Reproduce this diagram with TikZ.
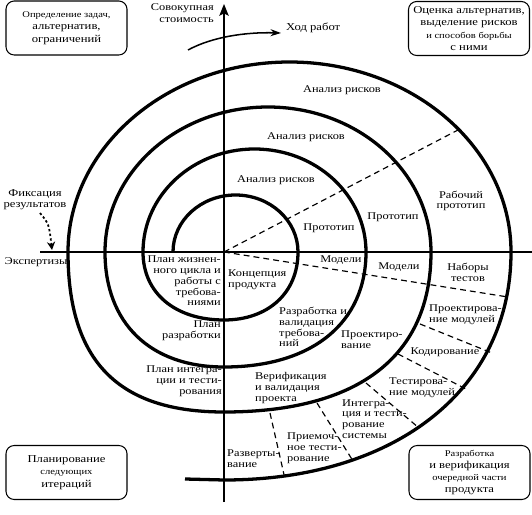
\documentclass[tikz,border=0pt]{standalone}
\usepackage{fontspec}
\setmainfont{Liberation Serif}[FakeStretch=1.2]
\usetikzlibrary{arrows.meta}
\newcommand\smalltxt{\fontsize{7.5}{10}\selectfont}

\begin{document}
\begin{tikzpicture}[x=0.03cm, y=-0.03cm, >=Stealth,
  spiral/.style={line width=2.8pt},
  axis/.style={line width=1.1pt},
  sector/.style={line width=1pt, dash pattern=on 5pt off 3.5pt},
  lbl/.style={font=\fontsize{8.8}{9.2}\selectfont, inner sep=0pt},
  lblw/.style={lbl, align=left, anchor=west},
  lble/.style={lbl, align=right, anchor=east},
  stagebox/.style={draw, line width=0.9pt, rounded corners=7pt, align=center,
    minimum width=3.63cm, minimum height=1.62cm, inner sep=0pt,
    font=\fontsize{9}{10.5}\selectfont}]
  \useasboundingbox (0,0) rectangle (532,515);

  % Оси
  \coordinate (O) at (224,252);
  \draw[axis, -{Stealth[length=10pt, width=8pt, inset=2pt]}] (224,502) -- (224,4);
  \draw[axis] (40,252) -- (532,252);
  \node[lble, font=\fontsize{8.8}{10}\selectfont] (cost) at (214,13) {Совокупная\\стоимость};

  % Спираль
  \draw[spiral] (173,252)
    .. controls +(0,-31.5) and +(-34.5,0) .. (235.5,195)
    .. controls +(34.5,0) and +(0,-31.5) .. (298,252)
    .. controls +(0,41) and +(44,0) .. (224,320)
    .. controls +(-49,0) and +(0,41) .. (143,252)
    .. controls +(0,-57) and +(-61.5,0) .. (254.5,149)
    .. controls +(61.5,0) and +(0,-57) .. (366,252)
    .. controls +(0,71) and +(88,0) .. (224,367)
    .. controls +(-74,0) and +(0,71) .. (105,252)
    .. controls +(0,-80) and +(-90,0) .. (268,107)
    .. controls +(90,0) and +(0,-80) .. (431,252)
    .. controls +(0,104) and +(135,0) .. (224,412)
    .. controls +(-106,0) and +(0,109) .. (68,252)
    .. controls +(0,-105) and +(-122,0) .. (289.5,62)
    .. controls +(122,0) and +(0,-105) .. (511,252)
    .. controls +(0,137) and +(172,0) .. (224,480)
    -- (185,479);

  % Границы этапов
  \draw[sector] (O) -- (458,130);
  \draw[sector] (O) -- (508,297);
  \draw[sector] (420,324) -- (492,353);
  \draw[sector] (398,354) -- (466,389);
  \draw[sector] (366,383) -- (419,428);
  \draw[sector] (317,403) -- (353,461);
  \draw[sector] (270,413) -- (285,479);

  % Ход работ
  \node[lbl, anchor=west, font=\fontsize{9}{10}\selectfont] (hod) at (286,28) {Ход работ};
  \coordinate (hod0) at (188,50);
  \coordinate (hod1) at (281,33);
  \draw[line width=1.3pt, -{Stealth[length=9pt, width=6pt]}] (hod0) .. controls (212,37) and (245,32) .. (hod1);

  % Фиксация результатов
  \node[lbl, align=center, font=\fontsize{9}{9.5}\selectfont] (fix) at (35,200) {Фиксация\\результатов};
  \coordinate (fix0) at (40,213);
  \coordinate (fix1) at (52,250);
  \draw[line width=1.5pt, dash pattern=on 2pt off 2pt, -{Stealth[length=7pt, width=7pt]}] (fix0) .. controls (49,224) .. (fix1);
  \node[lbl] (exp) at (36,262) {Экспертизы};

  % Квадранты
  \node[stagebox] (goals) at (66.5,28) {{\smalltxt Определение задач,}\\альтернатив,\\ограничений};
  \node[stagebox] (risks) at (469,28.5) {Оценка альтернатив,\\выделение рисков\\{\smalltxt и способов борьбы}\\с ними};
  \node[stagebox] (plan) at (66.5,472.5) {Планирование\\{\smalltxt следующих}\\итераций};
  \node[stagebox] (dev) at (469.5,472.5) {{\smalltxt Разработка}\\и верификация\\{\smalltxt очередной части}\\продукта};

  % Анализ рисков и прототипы
  \node[lbl] (ar1) at (342,90) {Анализ рисков};
  \node[lbl] (ar2) at (306,137) {Анализ рисков};
  \node[lbl] (ar3) at (276,180) {Анализ рисков};
  \node[lbl] (pt1) at (329,228) {Прототип};
  \node[lbl] (pt2) at (393,217) {Прототип};
  \node[lbl, align=center] (pt3) at (461,201) {Рабочий\\прототип};
  \node[lbl] (md1) at (341,260) {Модели};
  \node[lbl] (md2) at (399,267) {Модели};
  \node[lbl, align=center] (tst) at (468,272) {Наборы\\тестов};

  % Планы
  \node[lble] (pl1) at (221,281) {План жизнен-\\ного цикла и\\работы с\\требова-\\ниями};
  \node[lble] (pl2) at (221,331) {План\\разработки};
  \node[lble] (pl3) at (222,381) {План интегра-\\ции и тести-\\рования};

  % Разработка
  \node[lblw] (s1) at (228,280) {Концепция\\продукта};
  \node[lblw] (s2) at (279,327) {Разработка и\\валидация\\требова-\\ний};
  \node[lblw] (s3) at (341,340) {Проектиро-\\вание};
  \node[lblw] (s4) at (255,388) {Верификация\\и валидация\\проекта};
  \node[lblw] (s5) at (429,315) {Проектирова-\\ние модулей};
  \node[lbl] (s6) at (445,352) {Кодирование};
  \node[lblw] (s7) at (389,388) {Тестирова-\\ние модулей};
  \node[lblw] (s8) at (342,419) {Интегра-\\ция и тести-\\рование\\системы};
  \node[lblw] (s9) at (287,448) {Приемоч-\\ное тести-\\рование};
  \node[lblw] (s10) at (227,459) {Разверты-\\вание};
\end{tikzpicture}
\end{document}
